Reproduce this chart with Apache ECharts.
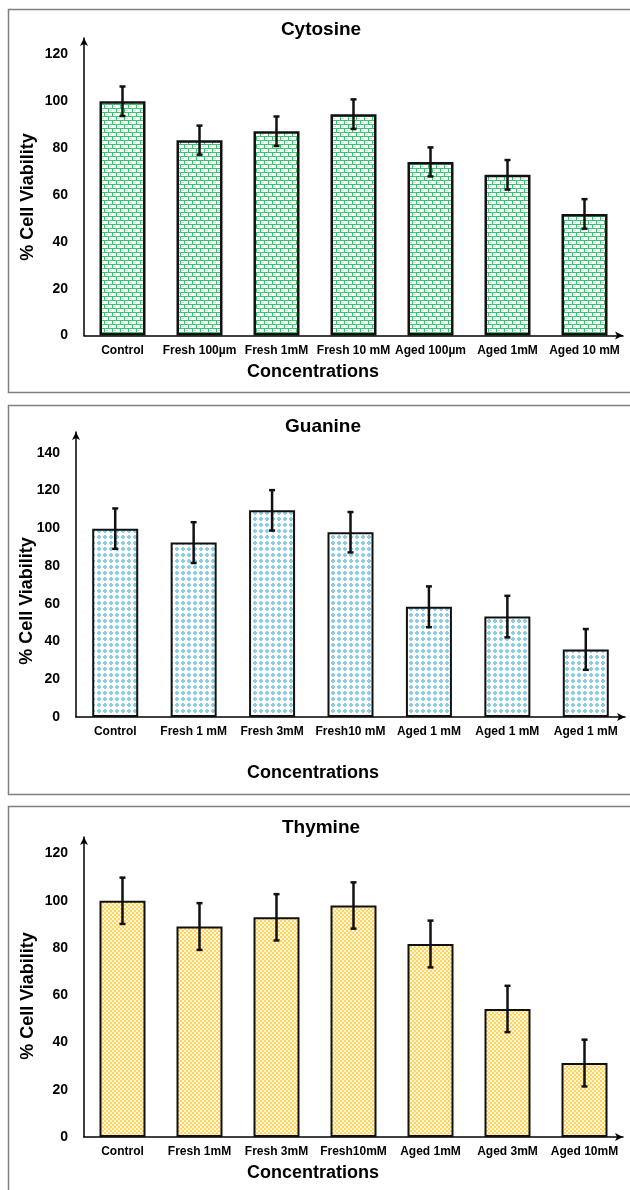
<!DOCTYPE html>
<html>
<head>
<meta charset="utf-8">
<script src="https://cdn.jsdelivr.net/npm/echarts@6/dist/echarts.min.js"></script>
<style>
html,body{margin:0;padding:0;background:#fff;}
#main{width:630px;height:1190px;}
</style>
</head>
<body>
<div id="main"></div>
<script>
// ---- Data ----
const cytCats = ['Control', 'Fresh 100µm', 'Fresh 1mM', 'Fresh 10 mM', 'Aged 100µm', 'Aged 1mM', 'Aged 10 mM'];
const cytVals = [100, 83.4, 87.2, 94.5, 74.1, 68.6, 51.9];
const cytErr  = [6.3, 6.2, 6.3, 6.3, 6.2, 6.3, 6.3];

const guaCats = ['Control', 'Fresh 1 mM', 'Fresh 3mM', 'Fresh10 mM', 'Aged 1 mM', 'Aged 1 mM', 'Aged 1 mM'];
const guaVals = [99.8, 92.4, 109.5, 97.9, 58.4, 53.2, 35.8];
const guaErr  = [10.7, 10.8, 10.7, 10.7, 10.8, 11.0, 10.8];

const thyCats = ['Control', 'Fresh 1mM', 'Fresh 3mM', 'Fresh10mM', 'Aged 1mM', 'Aged 3mM', 'Aged 10mM'];
const thyVals = [100, 89.1, 93.0, 98.0, 81.7, 54.2, 31.3];
const thyErr  = [9.8, 9.9, 9.8, 9.8, 9.9, 9.8, 9.9];

const titles = ['Cytosine', 'Guanine', 'Thymine'];
const yName = '% Cell Viability';
const xName = 'Concentrations';

// ---- Patterns ----
function makeCanvas(w, h, draw) {
  const c = document.createElement('canvas');
  c.width = w; c.height = h;
  const ctx = c.getContext('2d');
  draw(ctx);
  return c;
}
const brick = makeCanvas(8, 8, ctx => {
  ctx.fillStyle = '#ffffff'; ctx.fillRect(0, 0, 8, 8);
  ctx.fillStyle = '#3cc173';
  ctx.fillRect(0, 0, 8, 1);
  ctx.fillRect(0, 4, 8, 1);
  ctx.fillRect(0, 0, 1, 4);
  ctx.fillRect(4, 4, 1, 4);
  ctx.fillStyle = '#c4ecd3';
  ctx.fillRect(1, 2, 3, 1);
  ctx.fillRect(5, 6, 3, 1);
});
const dots = makeCanvas(6, 6, ctx => {
  ctx.fillStyle = '#ffffff'; ctx.fillRect(0, 0, 6, 6);
  ctx.fillStyle = '#8ccde3';
  ctx.fillRect(1, 2, 4, 2);
  ctx.fillRect(2, 1, 2, 4);
});
const checker = makeCanvas(4, 4, ctx => {
  ctx.fillStyle = '#fff6d8'; ctx.fillRect(0, 0, 4, 4);
  ctx.fillStyle = '#fdd461';
  ctx.fillRect(0, 0, 2, 2);
  ctx.fillRect(2, 2, 2, 2);
});

const FONT = "'Liberation Sans', Arial, sans-serif";

const panels = [
  { cats: cytCats, vals: cytVals, err: cytErr, grid: { left: 84, width: 539, top: 38, height: 297.5 }, max: 127, pattern: brick, border: 2.5 },
  { cats: guaCats, vals: guaVals, err: guaErr, grid: { left: 76, width: 549, top: 432, height: 285 }, max: 151, pattern: dots, border: 2 },
  { cats: thyCats, vals: thyVals, err: thyErr, grid: { left: 84, width: 539, top: 837, height: 300 }, max: 127, pattern: checker, border: 2 }
];

const grid = [], xAxis = [], yAxis = [], series = [];
panels.forEach((p, i) => {
  grid.push(Object.assign({ containLabel: false }, p.grid));
  xAxis.push({
    type: 'category', gridIndex: i, data: p.cats,
    axisLine: { show: true, lineStyle: { color: '#000', width: 1.5 }, symbol: ['none', 'arrow'], symbolSize: [6, 8] },
    axisTick: { show: false },
    axisLabel: { interval: 0, margin: 9, fontSize: 12, fontWeight: 'bold', color: '#000', fontFamily: FONT }
  });
  yAxis.push({
    type: 'value', gridIndex: i, min: 0, max: p.max, interval: 20,
    axisLine: { show: true, lineStyle: { color: '#000', width: 1.5 }, symbol: ['none', 'arrow'], symbolSize: [6, 8] },
    axisTick: { show: false },
    splitLine: { show: false },
    axisLabel: {
      margin: 16, fontSize: 14, fontWeight: 'bold', color: '#000', fontFamily: FONT,
      formatter: v => (v % 20 === 0 ? String(v) : '')
    }
  });
  series.push({
    type: 'bar', xAxisIndex: i, yAxisIndex: i, data: p.vals, barWidth: 46,
    itemStyle: { color: { image: p.pattern, repeat: 'repeat' }, borderColor: '#111', borderWidth: p.border },
    z: 2
  });
  series.push({
    type: 'custom', xAxisIndex: i, yAxisIndex: i, z: 5,
    data: p.vals.map((v, k) => [k, v - p.err[k], v + p.err[k]]),
    encode: { x: 0, y: [1, 2] },
    renderItem: (params, api) => {
      const x = api.value(0);
      const lo = api.coord([x, api.value(1)]);
      const hi = api.coord([x, api.value(2)]);
      const style = { stroke: '#111', lineWidth: 2.5 };
      const cw = 3;
      return {
        type: 'group',
        children: [
          { type: 'line', shape: { x1: lo[0], y1: lo[1], x2: hi[0], y2: hi[1] }, style },
          { type: 'line', shape: { x1: hi[0] - cw, y1: hi[1], x2: hi[0] + cw, y2: hi[1] }, style },
          { type: 'line', shape: { x1: lo[0] - cw, y1: lo[1], x2: lo[0] + cw, y2: lo[1] }, style }
        ]
      };
    }
  });
});

const panelBoxes = [
  { y: 9.5, h: 383 },
  { y: 405.5, h: 389 },
  { y: 806.5, h: 420 }
];
const titlePos = [[321, 30], [323, 427], [321, 828]];
const yNamePos = [[28, 197], [27, 601], [28, 996]];
const xNamePos = [[313, 372], [313, 773], [313, 1173]];

const graphic = [];
panelBoxes.forEach((b, i) => {
  graphic.push({ type: 'rect', z: 0, silent: true,
    shape: { x: 8.5, y: b.y, width: 660, height: b.h },
    style: { fill: 'none', stroke: '#7f7f7f', lineWidth: 1.5 } });
  graphic.push({ type: 'text', x: titlePos[i][0], y: titlePos[i][1], z: 10,
    style: { text: titles[i], font: 'bold 19px ' + FONT, fill: '#000', align: 'center', verticalAlign: 'middle' } });
  graphic.push({ type: 'text', x: yNamePos[i][0], y: yNamePos[i][1], rotation: Math.PI / 2, z: 10,
    style: { text: yName, font: 'bold 18px ' + FONT, fill: '#000', align: 'center', verticalAlign: 'middle' } });
  graphic.push({ type: 'text', x: xNamePos[i][0], y: xNamePos[i][1], z: 10,
    style: { text: xName, font: 'bold 18px ' + FONT, fill: '#000', align: 'center', verticalAlign: 'middle' } });
});

const chart = echarts.init(document.getElementById('main'), null, { renderer: 'canvas' });
chart.setOption({
  animation: false,
  backgroundColor: '#fff',
  textStyle: { fontFamily: FONT },
  grid, xAxis, yAxis, series, graphic
});
</script>
</body>
</html>
